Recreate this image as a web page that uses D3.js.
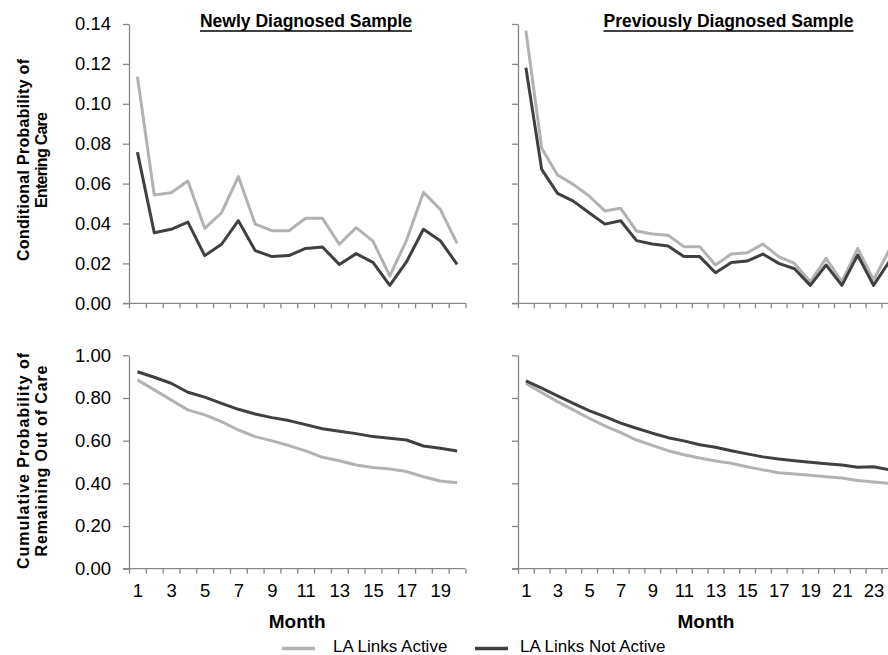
<!DOCTYPE html>
<html>
<head>
<meta charset="utf-8">
<script src="https://d3js.org/d3.v7.min.js"></script>
<style>
  body { margin: 0; background: #fff; overflow: hidden; }
  svg  { display: block; font-family: "Liberation Sans", Arial, sans-serif; }
  .axis path, .axis line { stroke: #868686; stroke-width: 1.3; }
</style>
</head>
<body>
<div id="chart"></div>
<script>
// months on each horizontal axis
var newMonths  = d3.range (1, 21);
var prevMonths = d3.range (1, 25);

// conditional probability of entering care
var newCondActive     = [0.1136, 0.0543, 0.0554, 0.0613, 0.0376, 0.0454, 0.0635, 0.0397, 0.0364, 0.0364,
                         0.0426, 0.0426, 0.0296, 0.0379, 0.0312, 0.0137, 0.0317, 0.0556, 0.0471, 0.0300];
var newCondNotActive  = [0.0758, 0.0354, 0.0371, 0.0407, 0.0239, 0.0296, 0.0414, 0.0264, 0.0234, 0.0239,
                         0.0275, 0.0282, 0.0195, 0.0249, 0.0205, 0.0090, 0.0209, 0.0371, 0.0314, 0.0195];
var prevCondActive    = [0.1367, 0.0777, 0.0643, 0.0596, 0.0538, 0.0463, 0.0476, 0.0362, 0.0347, 0.0341, 0.0284, 0.0284,
                         0.0192, 0.0247, 0.0253, 0.0297, 0.0234, 0.0200, 0.0108, 0.0225, 0.0108, 0.0275, 0.0117, 0.0267];
var prevCondNotActive = [0.1181, 0.0671, 0.0551, 0.0512, 0.0454, 0.0397, 0.0414, 0.0314, 0.0297, 0.0287, 0.0234, 0.0234,
                         0.0153, 0.0204, 0.0212, 0.0247, 0.0200, 0.0173, 0.0090, 0.0192, 0.0090, 0.0242, 0.0090, 0.0209];

// cumulative probability of remaining out of care
var newCumActive      = [0.885, 0.838, 0.791, 0.744, 0.721, 0.689, 0.650, 0.619, 0.599, 0.577,
                         0.552, 0.522, 0.506, 0.486, 0.474, 0.467, 0.455, 0.431, 0.411, 0.403];
var newCumNotActive   = [0.923, 0.897, 0.869, 0.827, 0.804, 0.775, 0.747, 0.725, 0.708, 0.694,
                         0.675, 0.656, 0.644, 0.633, 0.619, 0.611, 0.603, 0.575, 0.564, 0.552];
var prevCumActive     = [0.869, 0.825, 0.783, 0.744, 0.705, 0.669, 0.638, 0.603, 0.578, 0.553, 0.534, 0.519,
                         0.505, 0.494, 0.478, 0.463, 0.450, 0.444, 0.438, 0.431, 0.425, 0.413, 0.406, 0.400];
var prevCumNotActive  = [0.880, 0.846, 0.810, 0.775, 0.741, 0.713, 0.682, 0.658, 0.635, 0.614, 0.599, 0.581,
                         0.569, 0.553, 0.538, 0.524, 0.514, 0.506, 0.499, 0.492, 0.486, 0.475, 0.478, 0.464];

// tick labels
var condTicks   = [0, 0.02, 0.04, 0.06, 0.08, 0.10, 0.12, 0.14];
var cumTicks    = [0, 0.2, 0.4, 0.6, 0.8, 1.0];
var seriesNames = ['LA Links Active', 'LA Links Not Active'];
var panelTitles = ['Newly Diagnosed Sample', 'Previously Diagnosed Sample'];

var width  = 888;
var height = 655;

var colActive    = '#b2b2b2';
var colNotActive = '#404040';

var svg = d3.select ('#chart')
            .append ('svg')
            .attr ('width', width)
            .attr ('height', height);

// horizontal extents of the two columns (band per month, Excel style)
var xLeft  = d3.scaleLinear ().domain ([0.5, 20.5]).range ([129, 465.5]);
var xRight = d3.scaleLinear ().domain ([0.5, 24.5]).range ([518, 897.2]);

// vertical scales for the two rows
var yCond = d3.scaleLinear ().domain ([0, 0.14]).range ([303.3, 24]);
var yCum  = d3.scaleLinear ().domain ([0, 1.0]).range ([568.7, 355.3]);


//
// styleAxis - d3 puts its own font on the axis group, override it
//
function styleAxis (sel)
{
    sel.attr ('font-family', '"Liberation Sans", Arial, sans-serif')
       .attr ('font-size', 18.5);
    sel.selectAll ('text').attr ('fill', '#000');
}


//
// drawPanel
//
function drawPanel (xs, ys, months, active, notActive, yTickVals, yFmt, showLabels, showYLabels)
{
    var g = svg.append ('g');
    var x0 = xs.range()[0];
    var yb = ys.range()[0];

    // y axis
    var yAxis = d3.axisLeft (ys)
                  .tickValues (yTickVals)
                  .tickSize (6)
                  .tickSizeOuter (0)
                  .tickPadding (12)
                  .tickFormat (showYLabels ? d3.format (yFmt) : '');

    g.append ('g')
     .attr ('class', 'axis')
     .attr ('transform', 'translate(' + x0 + ',0)')
     .call (yAxis)
     .call (styleAxis);

    // x axis tick marks on band boundaries
    var bounds = months.map (function (m) { return m + 0.5; });
    bounds.unshift (0.5);

    var xAxis = d3.axisBottom (xs)
                  .tickValues (bounds)
                  .tickSize (5)
                  .tickFormat ('');

    var xa = g.append ('g')
              .attr ('class', 'axis')
              .attr ('transform', 'translate(0,' + yb + ')')
              .call (xAxis);
    xa.select ('.domain').remove ();

    xa.append ('line')
      .attr ('x1', x0 - 6)
      .attr ('x2', xs.range()[1])
      .attr ('y1', 0)
      .attr ('y2', 0);

    if (showLabels)
    {
        var labAxis = d3.axisBottom (xs)
                        .tickValues (months.filter (function (m) { return m % 2 == 1; }))
                        .tickSize (0)
                        .tickPadding (15)
                        .tickFormat (d3.format ('d'));

        var la = g.append ('g')
                  .attr ('class', 'axis')
                  .attr ('transform', 'translate(0,' + yb + ')')
                  .call (labAxis)
                  .call (styleAxis);
        la.select ('.domain').remove ();
    }

    var line = d3.line ()
                 .x (function (d, i) { return xs (months[i]); })
                 .y (function (d) { return ys (d); });

    g.append ('path')
     .datum (active)
     .attr ('d', line)
     .attr ('fill', 'none')
     .attr ('stroke', colActive)
     .attr ('stroke-width', 3)
     .attr ('stroke-linejoin', 'round');

    g.append ('path')
     .datum (notActive)
     .attr ('d', line)
     .attr ('fill', 'none')
     .attr ('stroke', colNotActive)
     .attr ('stroke-width', 3)
     .attr ('stroke-linejoin', 'round');
}

drawPanel (xLeft,  yCond, newMonths,  newCondActive,  newCondNotActive,  condTicks, '.2f', false, true);
drawPanel (xRight, yCond, prevMonths, prevCondActive, prevCondNotActive, condTicks, '.2f', false, false);
drawPanel (xLeft,  yCum,  newMonths,  newCumActive,   newCumNotActive,   cumTicks,  '.2f', true,  true);
drawPanel (xRight, yCum,  prevMonths, prevCumActive,  prevCumNotActive,  cumTicks,  '.2f', true,  false);


//
// panel titles, underlined
//
[[panelTitles[0], 306], [panelTitles[1], 728.5]].forEach (function (t)
{
    var txt = svg.append ('text')
                 .attr ('x', t[1])
                 .attr ('y', 27)
                 .attr ('text-anchor', 'middle')
                 .style ('font-size', '17.5px')
                 .style ('font-weight', 'bold')
                 .text (t[0]);

    var w = txt.node ().getComputedTextLength ();
    svg.append ('line')
       .attr ('x1', t[1] - w / 2)
       .attr ('x2', t[1] + w / 2)
       .attr ('y1', 31)
       .attr ('y2', 31)
       .attr ('stroke', '#000')
       .attr ('stroke-width', 1.5);
});


//
// y axis titles (two lines, rotated)
//
function yTitle (lines, cy, lengths)
{
    lines.forEach (function (s, i)
    {
        svg.append ('text')
           .attr ('transform', 'translate(' + (29 + i * 18) + ',' + cy + ') rotate(-90)')
           .attr ('text-anchor', 'middle')
           .attr ('textLength', lengths[i])
           .attr ('lengthAdjust', 'spacing')
           .style ('font-size', '16px')
           .style ('font-weight', 'bold')
           .text (s);
    });
}

yTitle (['Conditional Probability of', 'Entering Care'], 160, [202, 96]);
yTitle (['Cumulative Probability of', 'Remaining Out of Care'], 461, [216, 191]);


//
// x axis titles
//
[(xLeft.range()[0] + xLeft.range()[1]) / 2, 706].forEach (function (cx)
{
    svg.append ('text')
       .attr ('x', cx)
       .attr ('y', 628)
       .attr ('text-anchor', 'middle')
       .style ('font-size', '19px')
       .style ('font-weight', 'bold')
       .text ('Month');
});


//
// legend
//
var legend = [[seriesNames[0], colActive, 282, 333], [seriesNames[1], colNotActive, 475, 520]];

legend.forEach (function (l)
{
    svg.append ('line')
       .attr ('x1', l[2])
       .attr ('x2', l[2] + 33)
       .attr ('y1', 648.5)
       .attr ('y2', 648.5)
       .attr ('stroke', l[1])
       .attr ('stroke-width', 3.5);

    svg.append ('text')
       .attr ('x', l[3])
       .attr ('y', 652)
       .style ('font-size', '17px')
       .text (l[0]);
});
</script>
</body>
</html>
